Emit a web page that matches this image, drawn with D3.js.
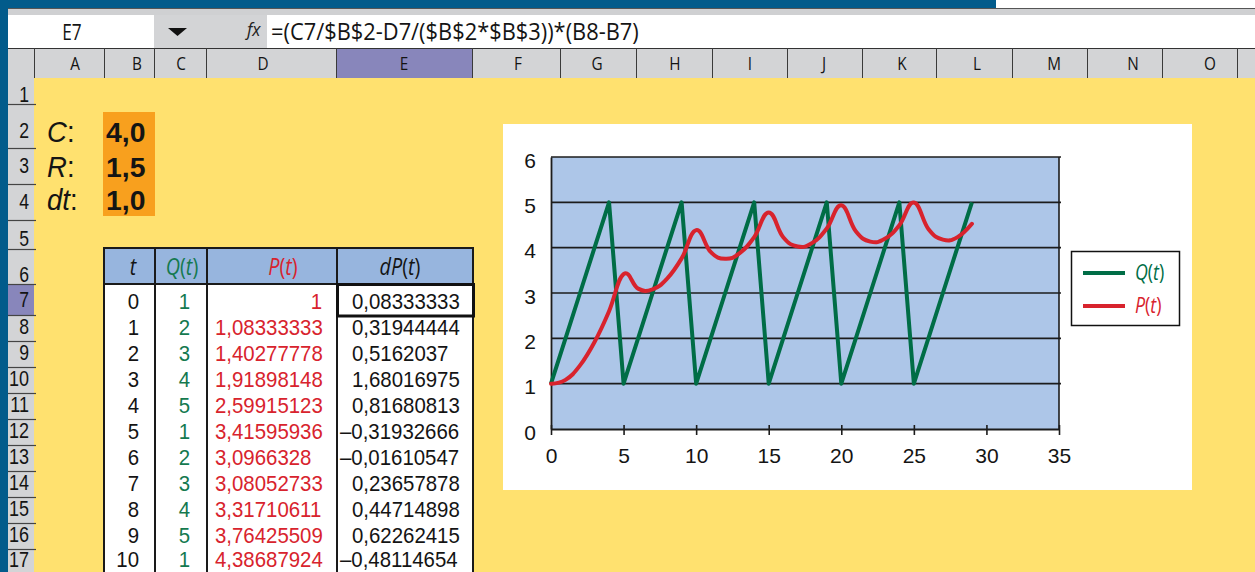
<!DOCTYPE html>
<html>
<head>
<meta charset="utf-8">
<script src="https://cdn.jsdelivr.net/npm/d3@7"></script>
<style>
  html, body { margin: 0; padding: 0; background: #ffe16f; }
  svg { display: block; font-family: "Open Sans", "Noto Sans", sans-serif; }
</style>
</head>
<body>
<svg id="sheet" width="1255" height="572"></svg>
<script>
// ---- model parameters (cells B2:B4) ----
const paramLabels = ["C", "R", "dt"];
const paramValues = ["4,0", "1,5", "1,0"];

// ---- simulation series: time step, inflow Q(t), level P(t) ----
const tSeries = [0, 1, 2, 3, 4, 5, 6, 7, 8, 9, 10, 11, 12, 13, 14,
                 15, 16, 17, 18, 19, 20, 21, 22, 23, 24, 25, 26, 27, 28, 29];
const qSeries = [1, 2, 3, 4, 5, 1, 2, 3, 4, 5, 1, 2, 3, 4, 5,
                 1, 2, 3, 4, 5, 1, 2, 3, 4, 5, 1, 2, 3, 4, 5];
const pSeries = [1, 1.08333333, 1.40277778, 1.91898148, 2.59915123, 3.41595936,
                 3.0966328, 3.08052733, 3.31710611, 3.76425509, 4.38687924,
                 3.9057, 3.7548, 3.8790, 4.2325, 4.7771, 4.2309, 4.0257, 4.1048,
                 4.4207, 4.9339, 4.3616, 4.1346, 4.1955, 4.4963, 4.9969, 4.4141,
                 4.1784, 4.2320, 4.5267];
// dP(t) column as displayed in the sheet (rows 7..17)
const dpTable = [0.08333333, 0.31944444, 0.5162037, 1.68016975, 0.81680813,
                 -0.31932666, -0.01610547, 0.23657878, 0.44714898, 0.62262415,
                 -0.48114654];
const tableRows = 11;

// ---- sheet chrome labels ----
const columnLetters = ["A", "B", "C", "D", "E", "F", "G", "H", "I", "J", "K", "L", "M", "N", "O"];
const rowNumbers = d3.range(1, 18);
const cellRef = "E7";
const formulaText = "=(C7/$B$2-D7/($B$2*$B$3))*(B8-B7)";

// ---- chart axes ----
const xTicks = [0, 5, 10, 15, 20, 25, 30, 35];
const yTicks = [0, 1, 2, 3, 4, 5, 6];
const seriesNames = ["Q", "P"];

// ---- layout ----
const W = 1255, H = 572;
const colEdges = [34, 104, 154, 206, 336, 472, 560, 636, 712, 787, 862, 936, 1012, 1087, 1162, 1237];
const colLabelX = [75, 137, 181, 263, 404, 518, 597, 675, 750, 824, 902, 977, 1054, 1133, 1210];
const rowEdges = [78, 104, 148, 184, 220, 249, 284, 315, 341, 367, 393, 419, 445, 471, 497, 523, 549, 575];
const rowLabelBase = [102, 138, 173, 209, 246, 282, 307, 334, 360, 386, 412, 438, 464, 490, 516, 542, 567.4];

const CELL_FONT = '"Liberation Sans", Arimo, Arial, sans-serif';

const C = {
  yellow: "#ffe16f", blue: "#025b8b", gray: "#d3d4d6", purple: "#8886bb",
  orange: "#f8a01e", head: "#97b5de", plot: "#adc6e8",
  green: "#006d46", greenText: "#14794f", red: "#d8232d", ink: "#141414"
};

const svg = d3.select("#sheet");

function label(g, x, y, content, o = {}) {
  const t = g.append("text")
    .attr("transform", `translate(${x},${y}) scale(${o.sx || 1},1)`)
    .attr("text-anchor", o.anchor || "start")
    .attr("font-size", o.size || 20)
    .attr("font-family", o.font || null)
    .attr("fill", o.fill || C.ink)
    .attr("font-weight", o.bold ? "bold" : null)
    .attr("font-style", o.italic ? "italic" : null);
  if (Array.isArray(content)) {
    content.forEach(p => t.append("tspan")
      .attr("font-style", p.italic ? "italic" : "normal")
      .text(p.text));
  } else {
    t.text(content);
  }
  return t;
}
// variable name with italic letters and upright parentheses, e.g. Q(t)
const fn = (name) => [{ text: name, italic: true }, { text: "(" }, { text: "t", italic: true }, { text: ")" }];

function fmtCell(v) {
  let s = v.toFixed(8).replace(/0+$/, "").replace(/\.$/, "");
  return s.replace(".", ",").replace("-", "–");
}

// ================= spreadsheet frame =================
svg.append("rect").attr("width", W).attr("height", H).attr("fill", C.yellow);

// window band and toolbar strip
svg.append("rect").attr("x", 0).attr("y", 0).attr("width", 996).attr("height", 9).attr("fill", C.blue);
svg.append("rect").attr("x", 996).attr("y", 0).attr("width", W - 996).attr("height", 9).attr("fill", "#fff");
svg.append("rect").attr("x", 8).attr("y", 9).attr("width", W - 8).attr("height", 6).attr("fill", "#cfd0d2");
svg.append("line").attr("x1", 8).attr("x2", W).attr("y1", 8.5).attr("y2", 8.5).attr("stroke", "#555").attr("stroke-width", 1);

// formula bar
svg.append("rect").attr("x", 8).attr("y", 15).attr("width", W - 8).attr("height", 33).attr("fill", "#fff");
svg.append("rect").attr("x", 154).attr("y", 15).attr("width", 113).attr("height", 33).attr("fill", C.gray);
label(svg, 72, 40, cellRef, { anchor: "middle", size: 21, sx: 0.82 });
svg.append("path").attr("d", "M168,28 L187,28 L177.5,36 Z").attr("fill", "#111");
label(svg, 247, 36, "fx", { size: 19, italic: true, sx: 0.9, fill: "#222" });
label(svg, 271, 40, formulaText, { size: 23, sx: 0.95 });

// column headers
svg.append("rect").attr("x", 8).attr("y", 48).attr("width", W - 8).attr("height", 30).attr("fill", C.gray);
svg.append("rect").attr("x", colEdges[4]).attr("y", 48).attr("width", colEdges[5] - colEdges[4]).attr("height", 30).attr("fill", C.purple);
svg.append("line").attr("x1", 8).attr("x2", W).attr("y1", 48.5).attr("y2", 48.5).attr("stroke", "#333");
svg.selectAll("line.colsep").data(colEdges).join("line").attr("class", "colsep")
  .attr("x1", d => d + 0.5).attr("x2", d => d + 0.5).attr("y1", 48).attr("y2", 78)
  .attr("stroke", "#3a3a3a").attr("stroke-width", 1);
columnLetters.forEach((c, i) => label(svg, colLabelX[i], 70, c, { anchor: "middle", size: 18, sx: 0.85 }));

// row headers
svg.append("rect").attr("x", 8).attr("y", 78).attr("width", 26).attr("height", H - 78).attr("fill", C.gray);
svg.append("rect").attr("x", 8).attr("y", rowEdges[6]).attr("width", 26).attr("height", rowEdges[7] - rowEdges[6]).attr("fill", C.purple);
svg.selectAll("line.rowsep").data(rowEdges.slice(1)).join("line").attr("class", "rowsep")
  .attr("x1", 8).attr("x2", 36).attr("y1", d => d + 0.5).attr("y2", d => d + 0.5)
  .attr("stroke", "#444").attr("stroke-width", 1.2);
rowNumbers.forEach((r, i) => label(svg, 29, rowLabelBase[i], String(r),
  { anchor: "end", size: r < 10 ? 22 : 22.5, sx: 0.8, font: CELL_FONT }));

// left window edge
svg.append("rect").attr("x", 0).attr("y", 0).attr("width", 8).attr("height", H).attr("fill", C.blue);

// ================= parameters =================
svg.append("rect").attr("x", 103).attr("y", 112).attr("width", 52).attr("height", 104).attr("fill", C.orange);
const paramBase = [142, 177, 210];
paramLabels.forEach((p, i) => {
  label(svg, 47, paramBase[i], [{ text: p, italic: true }, { text: ":" }], { size: 29, sx: 0.95, font: CELL_FONT });
  label(svg, 106, paramBase[i], paramValues[i], { size: 27, bold: true, sx: 1.05, font: CELL_FONT });
});

// ================= data table =================
const tbl = svg.append("g");
const tx = [104, 155, 207, 337, 473];
const headTop = 248, headBottom = 284;
tbl.append("rect").attr("x", tx[0]).attr("y", headTop).attr("width", tx[4] - tx[0]).attr("height", headBottom - headTop).attr("fill", C.head);
tbl.append("rect").attr("x", tx[0]).attr("y", headBottom).attr("width", tx[4] - tx[0]).attr("height", H - headBottom).attr("fill", "#fff");

const headers = [
  { c: [{ text: "t", italic: true }], x: 133, fill: C.ink },
  { c: fn("Q"), x: 182, fill: C.greenText },
  { c: fn("P"), x: 283, fill: C.red },
  { c: [{ text: "d", italic: true }].concat(fn("P")), x: 400, fill: C.ink }
];
headers.forEach(h => label(tbl, h.x, 275, h.c, { anchor: "middle", size: 23, sx: 0.86, fill: h.fill }));

const cellOpt = { size: 21.5, sx: 0.95, font: CELL_FONT };
const dataRowBottom = rowEdges.slice(7);
d3.range(tableRows).forEach(i => {
  const yb = Math.min(dataRowBottom[i] - 5.7, 567.4);
  label(tbl, 139, yb, String(tSeries[i]), { ...cellOpt, anchor: "end" });
  label(tbl, 190, yb, String(qSeries[i]), { ...cellOpt, anchor: "end", fill: C.greenText });
  if (i === 0) label(tbl, 322, yb, fmtCell(pSeries[i]), { ...cellOpt, anchor: "end", fill: C.red });
  else label(tbl, 215, yb, fmtCell(pSeries[i]), { ...cellOpt, fill: C.red });
  const v = dpTable[i];
  // negative values carry a dash hanging left of the digit column
  label(tbl, v < 0 ? 340 : 352, yb, fmtCell(v), cellOpt);
});

// table borders
tbl.append("rect").attr("x", tx[0]).attr("y", headTop).attr("width", tx[4] - tx[0]).attr("height", H + 10 - headTop)
  .attr("fill", "none").attr("stroke", "#1a1a1a").attr("stroke-width", 2);
tbl.selectAll("line.vsep").data(tx.slice(1, 4)).join("line").attr("class", "vsep")
  .attr("x1", d => d).attr("x2", d => d).attr("y1", headTop).attr("y2", H)
  .attr("stroke", "#1a1a1a").attr("stroke-width", 2);
tbl.append("line").attr("x1", tx[0]).attr("x2", tx[4]).attr("y1", headBottom).attr("y2", headBottom)
  .attr("stroke", "#1a1a1a").attr("stroke-width", 2);
// active cell E7
tbl.append("rect").attr("x", 337.5).attr("y", 284.5).attr("width", 136).attr("height", 31.5)
  .attr("fill", "none").attr("stroke", "#111").attr("stroke-width", 3);

// ================= chart =================
const chart = svg.append("g");
chart.append("rect").attr("x", 503).attr("y", 124).attr("width", 689).attr("height", 366).attr("fill", "#fff");

const x = d3.scaleLinear().domain([0, 35]).range([551, 1059]);
const y = d3.scaleLinear().domain([0, 6]).range([429, 157]);

chart.append("rect").attr("x", x(0)).attr("y", y(6)).attr("width", x(35) - x(0)).attr("height", y(0) - y(6)).attr("fill", C.plot);

// horizontal gridlines
chart.selectAll("line.grid").data(yTicks.filter(v => v > 0)).join("line").attr("class", "grid")
  .attr("x1", x(0)).attr("x2", x(35) + 2).attr("y1", d => y(d)).attr("y2", d => y(d))
  .attr("stroke", "#1c1c1c").attr("stroke-width", 1.6);
// plot frame right side
chart.append("line").attr("x1", x(35)).attr("x2", x(35)).attr("y1", y(6)).attr("y2", y(0))
  .attr("stroke", "#1c1c1c").attr("stroke-width", 1.6);

// y axis
const yAxis = chart.append("g").attr("transform", `translate(${x(0)},0)`)
  .call(d3.axisLeft(y).tickValues(yTicks).tickSize(0).tickFormat(d3.format("d")));
yAxis.select(".domain").attr("stroke", "#1c1c1c").attr("stroke-width", 1.8);
yAxis.selectAll("text").attr("x", -15).attr("dy", null).attr("y", 10)
  .attr("font-size", 21).attr("fill", C.ink).attr("font-family", null);

// x axis with crossing tick marks
const xAxis = chart.append("g").attr("transform", `translate(0,${y(0)})`)
  .call(d3.axisBottom(x).tickValues(xTicks).tickSize(6).tickSizeOuter(0).tickFormat(d3.format("d")));
xAxis.select(".domain").attr("stroke", "#1c1c1c").attr("stroke-width", 1.8);
xAxis.selectAll(".tick line").attr("y1", -4).attr("stroke", "#1c1c1c").attr("stroke-width", 1.6);
xAxis.selectAll("text").attr("dy", null).attr("y", 34)
  .attr("font-size", 21).attr("fill", C.ink).attr("font-family", null);

// series: Q as straight segments, P as a smoothed line
const qLine = d3.line().x((d, i) => x(tSeries[i])).y(d => y(d));
const pLine = d3.line().x((d, i) => x(tSeries[i])).y(d => y(d)).curve(d3.curveCardinal.tension(-0.3));

chart.append("path").datum(qSeries).attr("d", qLine)
  .attr("fill", "none").attr("stroke", C.green).attr("stroke-width", 4).attr("stroke-linejoin", "round");
chart.append("path").datum(pSeries).attr("d", pLine)
  .attr("fill", "none").attr("stroke", C.red).attr("stroke-width", 4).attr("stroke-linecap", "round");

// legend
const lg = chart.append("g");
lg.append("rect").attr("x", 1071.5).attr("y", 251.5).attr("width", 108).attr("height", 74)
  .attr("fill", "#fff").attr("stroke", "#111").attr("stroke-width", 1.5);
const legendColors = [C.green, C.red];
seriesNames.forEach((n, i) => {
  const ly = 273 + i * 33;
  lg.append("line").attr("x1", 1083).attr("x2", 1125).attr("y1", ly).attr("y2", ly)
    .attr("stroke", legendColors[i]).attr("stroke-width", 4);
  label(lg, 1135, ly + 7, fn(n), { size: 21, sx: 0.85, fill: legendColors[i] });
});
</script>
</body>
</html>
